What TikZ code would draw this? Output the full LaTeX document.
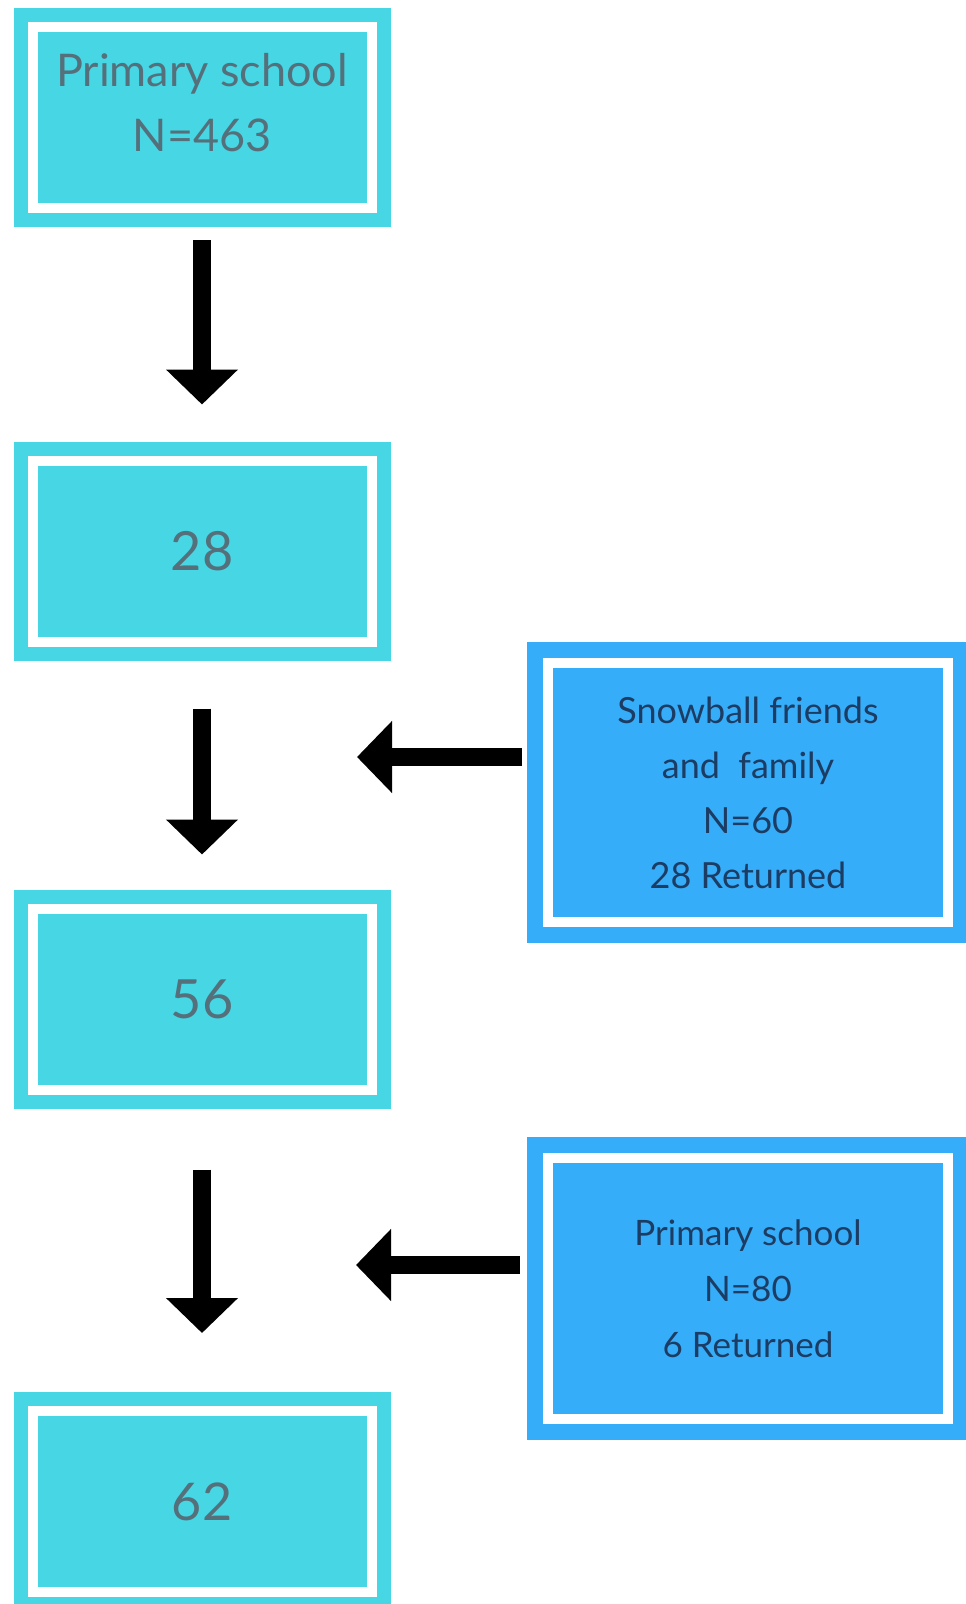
\documentclass[tikz,border=0pt]{standalone}
\usepackage{fontspec}
\setmainfont{Lato}
\usetikzlibrary{arrows.meta,positioning}
\definecolor{boxcyan}{HTML}{46D6E4}
\definecolor{boxblue}{HTML}{36ADF8}
\definecolor{txtgray}{HTML}{55707A}
\definecolor{txtnavy}{HTML}{1C3C63}

\begin{document}
\begin{tikzpicture}[x=1pt, y=-1pt,
        stage/.style = {draw=boxcyan, double=white, double distance=10pt, line width=14pt,
                        fill=boxcyan, outer sep=0pt, inner sep=0pt, align=center,
                        minimum width=339pt, minimum height=181pt, text=txtgray},
        extra/.style = {draw=boxblue, double=white, double distance=10pt, line width=16pt,
                        fill=boxblue, outer sep=0pt, inner sep=0pt, align=center,
                        minimum width=400pt, minimum height=260pt, text=txtnavy},
        flow/.style  = {-{Triangle[width=70pt, length=35pt]}, line width=18pt, black},
    ]
        \useasboundingbox (0,0) rectangle (966,1604);

        % ---- main column ----
        \node (school) [stage, font=\fontsize{45}{65}\selectfont] at (202,117.5)
            {Primary school\\N=463\\[-34pt]};
        \node (first)  [stage, font=\fontsize{54}{66}\selectfont] at (202,551) {28};
        \node (second) [stage, font=\fontsize{54}{66}\selectfont] at (202,999) {56};
        \node (third)  [stage, font=\fontsize{52}{62}\selectfont] at (202,1501.5) {62};

        % ---- side boxes ----
        \node (snow)  [extra, minimum height=259pt, font=\fontsize{36}{55}\selectfont]
            at (748,792.5) {Snowball friends\\and\ \ family\\N=60\\28 Returned};
        \node (extra) [extra, minimum height=261pt, font=\fontsize{35}{56}\selectfont]
            at (748,1288.5) {Primary school\\N=80\\6 Returned};

        % ---- arrows ----
        \coordinate (j1) at (357,757);
        \coordinate (j2) at (356,1265);
        \draw[flow, shorten <=32pt, shorten >=56pt] (school.south) -- (first.north);
        \draw[flow, shorten <=67pt, shorten >=54pt] (first.south) -- (second.north);
        \draw[flow, shorten <=80pt, shorten >=78pt] (second.south) -- (third.north);
        \draw[flow, shorten <=26pt] (snow.west |- j1) -- (j1);
        \draw[flow, shorten <=28pt] (extra.west |- j2) -- (j2);
    \end{tikzpicture}
\end{document}
